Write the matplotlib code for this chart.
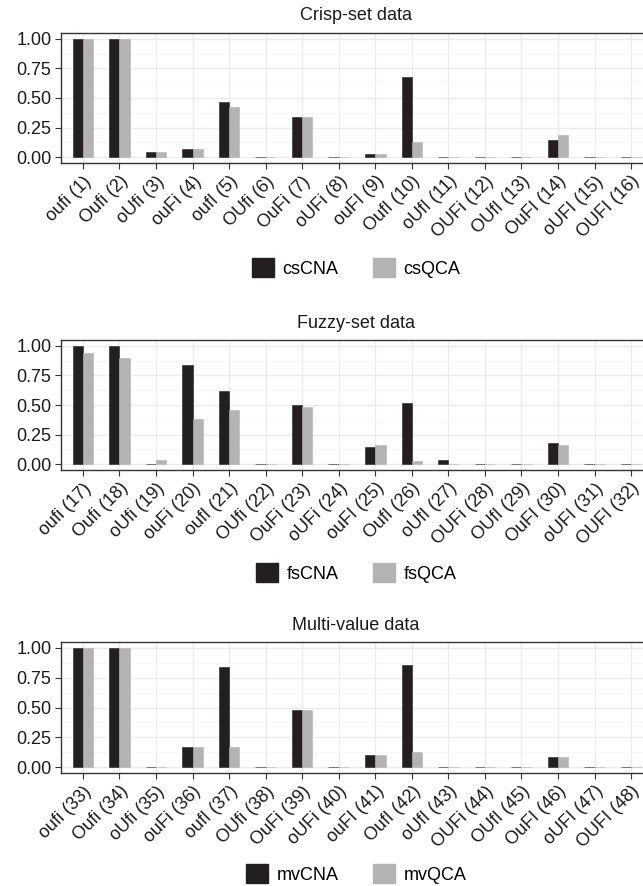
import matplotlib.pyplot as plt
from matplotlib.patches import Patch
from matplotlib.ticker import MultipleLocator

plt.rcParams['font.family'] = ['Liberation Sans', 'DejaVu Sans']

# configurations, same order in each panel
configs = ['oufi', 'Oufi', 'oUfi', 'ouFi', 'oufI', 'OUfi', 'OuFi', 'oUFi',
           'ouFI', 'OufI', 'oUfI', 'OUFi', 'OUfI', 'OuFI', 'oUFI', 'OUFI']

titles = ['Crisp-set data', 'Fuzzy-set data', 'Multi-value data']
series_names = [('csCNA', 'csQCA'), ('fsCNA', 'fsQCA'), ('mvCNA', 'mvQCA')]

cs_cna = [1.0, 1.0, 0.042, 0.068, 0.463, 0.0, 0.339, 0.0, 0.025, 0.678, 0.0, 0.0, 0.0, 0.144, 0.0, 0.0]
cs_qca = [1.0, 1.0, 0.042, 0.068, 0.424, 0.0, 0.339, 0.0, 0.025, 0.127, 0.0, 0.0, 0.0, 0.186, 0.0, 0.0]

fs_cna = [1.0, 1.0, 0.0, 0.839, 0.619, 0.0, 0.5, 0.0, 0.144, 0.517, 0.034, 0.0, 0.0, 0.178, 0.0, 0.0]
fs_qca = [0.941, 0.898, 0.034, 0.381, 0.458, 0.0, 0.483, 0.0, 0.161, 0.025, 0.0, 0.0, 0.0, 0.161, 0.0, 0.0]

mv_cna = [1.0, 1.0, 0.0, 0.165, 0.844, 0.0, 0.483, 0.0, 0.098, 0.860, 0.0, 0.0, 0.0, 0.081, 0.0, 0.0]
mv_qca = [1.0, 1.0, 0.0, 0.165, 0.165, 0.0, 0.483, 0.0, 0.098, 0.123, 0.0, 0.0, 0.0, 0.081, 0.0, 0.0]

data = [(cs_cna, cs_qca), (fs_cna, fs_qca), (mv_cna, mv_qca)]
start_ids = [1, 17, 33]

dark = '#231f20'
light = '#b3b3b3'
fs = 13

fig = plt.figure(figsize=(6.43, 8.86), dpi=100)
W, H = 643, 886

# panel boxes in pixels: (top, bottom, legend centre y)
panels = [(33, 163, 268), (340, 470, 573), (642, 773, 874)]
left_px, right_px = 61, 653

for k, (top, bot, leg_y) in enumerate(panels):
    ax = fig.add_axes([left_px / W, 1 - bot / H, (right_px - left_px) / W, (bot - top) / H])
    cna, qca = data[k]
    x = list(range(len(configs)))
    w = 0.28
    ax.bar([i - w / 2 for i in x], cna, width=w, color=dark, edgecolor=dark, linewidth=0.4, zorder=3)
    ax.bar([i + w / 2 for i in x], qca, width=w, color=light, edgecolor=light, linewidth=0.4, zorder=3)

    ax.set_xlim(-0.6, len(configs) - 0.4)
    ax.set_ylim(-0.05, 1.05)
    ax.yaxis.set_minor_locator(MultipleLocator(0.125))
    ax.set_yticks([0, 0.25, 0.5, 0.75, 1.0])
    ax.set_yticklabels(['0.00', '0.25', '0.50', '0.75', '1.00'], fontsize=fs, color='#1a1a1a')
    ax.set_xticks(x)
    labels = ['%s (%d)' % (c, start_ids[k] + i) for i, c in enumerate(configs)]
    ax.set_xticklabels(labels, rotation=45, ha='right', va='top', rotation_mode='anchor',
                       fontsize=fs, color='#1a1a1a')
    ax.tick_params(axis='both', which='major', length=4, width=0.8, color='#333333', pad=3)
    ax.tick_params(axis='y', which='minor', length=0)
    ax.grid(True, which='major', color='#ebebeb', linewidth=1.0, zorder=0)
    ax.grid(True, which='minor', axis='y', color='#f5f5f5', linewidth=0.6, zorder=0)
    ax.set_axisbelow(True)
    for s in ['left', 'top', 'bottom']:
        ax.spines[s].set_color('#333333')
        ax.spines[s].set_linewidth(1.0)
    ax.spines['right'].set_visible(False)

    fig.text(356 / W, 1 - (top - 17) / H, titles[k],
             ha='center', va='center', fontsize=fs, color='#1a1a1a')

    handles = [Patch(facecolor=dark, edgecolor=dark), Patch(facecolor=light, edgecolor=light)]
    fig.legend(handles, series_names[k], loc='center', ncol=2,
               bbox_to_anchor=(356 / W, 1 - leg_y / H), bbox_transform=fig.transFigure,
               frameon=False, fontsize=fs, handlelength=1.25, handleheight=1.25,
               handletextpad=0.45, columnspacing=1.9)

fig.savefig('out.png', dpi=100)
